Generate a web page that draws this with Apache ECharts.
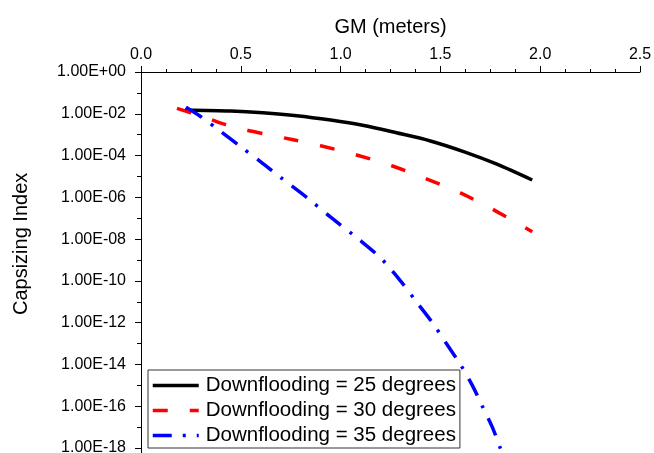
<!DOCTYPE html>
<html>
<head>
<meta charset="utf-8">
<script src="https://cdn.jsdelivr.net/npm/echarts@6/dist/echarts.min.js"></script>
<style>
html,body{margin:0;padding:0;background:#fff;}
#chart{width:654px;height:453px;}
</style>
</head>
<body>
<div id="chart"></div>
<script>
// GM (meters) and capsizing index values
var gm25 = [0.22, 0.45, 0.61, 0.78, 0.95, 1.11, 1.28, 1.45, 1.62, 1.78, 1.96];
var ci25 = [1.51e-2, 1.35e-2, 1.12e-2, 8.13e-3, 5.01e-3, 2.82e-3, 1.23e-3, 5.01e-4, 1.51e-4, 3.98e-5, 6.76e-6];

var gm30 = [0.18, 0.25, 0.32, 0.40, 0.50, 0.62, 0.75, 0.90, 1.08, 1.26, 1.43, 1.60, 1.76, 1.96];
var ci30 = [1.82e-2, 1.12e-2, 6.76e-3, 3.55e-3, 1.91e-3, 1.07e-3, 6.03e-4, 2.95e-4, 1.07e-4, 3.16e-5, 7.59e-6, 1.62e-6, 2.75e-7, 2.24e-8];

var gm35 = [0.225, 0.30, 0.40, 0.50, 0.60, 0.70, 0.83, 0.95, 1.09, 1.20, 1.30, 1.38, 1.46, 1.53, 1.60, 1.66, 1.71, 1.76, 1.80, 1.84];
var ci35 = [2.04e-2, 7.24e-3, 1.41e-3, 2.63e-4, 5.01e-5, 8.91e-6, 1.0e-6, 1.12e-7, 1.0e-8, 1.26e-9, 1.0e-10, 1.0e-11, 1.0e-12, 1.0e-13, 1.0e-14, 1.0e-15, 1.0e-16, 1.0e-17, 1.0e-18, 1.0e-19];

var seriesNames = ['Downflooding = 25 degrees', 'Downflooding = 30 degrees', 'Downflooding = 35 degrees'];
var xTitle = 'GM (meters)';
var yTitle = 'Capsizing Index';

function pairs(xs, ys) {
  return xs.map(function (x, i) { return [x, Math.log10(ys[i])]; });
}
function sciLabel(v) {
  var n = Math.round(v);
  var s = n >= 0 ? '+' : '-';
  var a = Math.abs(n);
  return '1.00E' + s + (a < 10 ? '0' + a : '' + a);
}

var FONT = '"Liberation Sans", Arial, sans-serif';
var chart = echarts.init(document.getElementById('chart'), null, {renderer: 'canvas'});
chart.setOption({
  animation: false,
  backgroundColor: '#ffffff',
  grid: {left: 141, top: 72, width: 499, height: 417.8, containLabel: false, outerBoundsMode: 'none'},
  xAxis: {
    type: 'value', position: 'top', min: 0, max: 2.5, interval: 0.5,
    name: xTitle, nameLocation: 'middle', nameGap: 35,
    nameTextStyle: {fontFamily: FONT, fontSize: 20, color: '#000'},
    axisLine: {show: true, onZero: false, lineStyle: {color: '#000', width: 1}},
    axisTick: {show: true, inside: false, length: 6, lineStyle: {color: '#000'}},
    minorTick: {show: true, splitNumber: 4, length: 3, lineStyle: {color: '#000'}},
    splitLine: {show: false},
    axisLabel: {fontFamily: FONT, fontSize: 16, color: '#000', margin: 9,
      formatter: function (v) { return v.toFixed(1); }}
  },
  yAxis: {
    type: 'value', min: -20, max: 0, interval: 2,
    name: yTitle, nameLocation: 'middle', nameGap: 110,
    nameTextStyle: {fontFamily: FONT, fontSize: 20, color: '#000', padding: [0, 0, 0, 74]},
    axisLine: {show: true, onZero: false, lineStyle: {color: '#000', width: 1}},
    axisTick: {show: true, inside: false, length: 6, lineStyle: {color: '#000'}},
    minorTick: {show: true, splitNumber: 2, length: 4, lineStyle: {color: '#000'}},
    splitLine: {show: false},
    axisLabel: {fontFamily: FONT, fontSize: 16, color: '#000', margin: 15, formatter: sciLabel}
  },
  legend: {
    orient: 'vertical', left: 148, top: 370,
    padding: [5, 4, 2, 3], itemGap: 4, itemWidth: 46, itemHeight: 14,
    backgroundColor: '#fff', borderColor: '#333', borderWidth: 1, borderRadius: 0,
    lineStyle: {width: 3.5},
    itemStyle: {opacity: 0, borderWidth: 0},
    textStyle: {fontFamily: FONT, fontSize: 20.5, color: '#000', lineHeight: 20, padding: [0, 0, 0, 2]},
    data: seriesNames
  },
  series: [
    {name: seriesNames[0], type: 'line', data: pairs(gm25, ci25), symbol: 'none', smooth: 0.3,
      lineStyle: {color: '#000000', width: 3.5, type: 'solid'}, itemStyle: {color: '#000000'}},
    {name: seriesNames[1], type: 'line', data: pairs(gm30, ci30), symbol: 'none', smooth: 0.3,
      lineStyle: {color: '#ff0000', width: 3.5, type: [15, 22]}, itemStyle: {color: '#ff0000'}},
    {name: seriesNames[2], type: 'line', data: pairs(gm35, ci35), symbol: 'none', smooth: 0.3,
      lineStyle: {color: '#0000ff', width: 3.5, type: [19, 11, 3, 11]}, itemStyle: {color: '#0000ff'}}
  ]
});
</script>
</body>
</html>
